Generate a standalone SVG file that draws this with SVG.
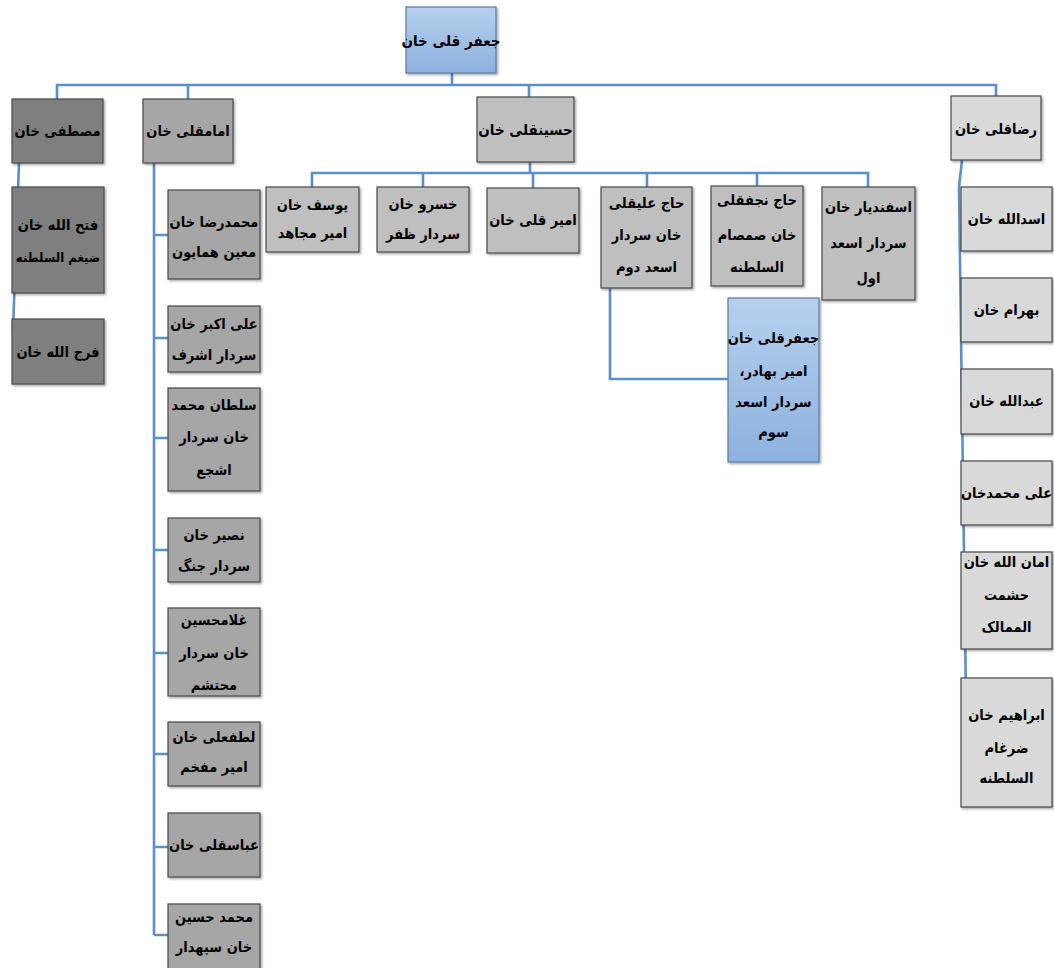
<svg xmlns="http://www.w3.org/2000/svg" width="1054" height="968" viewBox="0 0 1054 968">
  <defs>
    <linearGradient id="blueFill" x1="0" y1="0" x2="0" y2="1">
      <stop offset="0" stop-color="#b6d0ee"/>
      <stop offset="1" stop-color="#8db1de"/>
    </linearGradient>
    <filter id="shade" x="-10%" y="-10%" width="125%" height="125%">
      <feDropShadow dx="1.5" dy="1.5" stdDeviation="0.8" flood-color="#000" flood-opacity="0.35"/>
    </filter>
    <style>
      .box { stroke: #4a4a4a; stroke-width: 1.2; filter: url(#shade); }
      .c1 { fill: #7f7f7f; }
      .c2 { fill: #a6a6a6; }
      .c3 { fill: #bfbfbf; }
      .c4 { fill: #d9d9d9; }
      .cb { fill: url(#blueFill); stroke: #5a7aa0; }
      .wire { fill: none; stroke: #5b8fc9; stroke-width: 2.6; stroke-linejoin: miter; }
      text { font-family: "DejaVu Sans Condensed", "DejaVu Sans", sans-serif; font-weight: bold; font-size: 14.5px; fill: #000; text-anchor: middle; dominant-baseline: central; direction: rtl; }
      .big { font-size: 15px; }
      .tight { font-size: 13px; }
    </style>
  </defs>
  <rect width="1054" height="968" fill="#ffffff"/>

  <!-- connectors -->
  <g id="connectors">
    <!-- root to first generation -->
    <path class="wire" d="M452,73 V84 M57,99 V85 H996 V97 M188,99 V85 M529,97 V85"/>
    <!-- Mostafa line -->
    <path class="wire" d="M19,163 L13,330"/>
    <!-- Emamgholi line -->
    <path class="wire" d="M154,163 V935 M154,235 H168 M154,338 H168 M154,438 H168 M154,550 H168 M154,653 H168 M154,754 H168 M154,847 H168 M154,935 H168"/>
    <!-- Hosseingholi line -->
    <path class="wire" d="M530,162 V173 M312,187 V173 H868 V187 M423,173 V187 M533,173 V188 M647,173 V187 M757,173 V186"/>
    <!-- Haj Aligholi to Jafargholi -->
    <path class="wire" d="M610,288 V379 H728"/>
    <!-- Rezagholi line -->
    <path class="wire" d="M962,160 L959,187 L966,700"/>
  </g>

  <!-- root -->
  <g id="n-jafar-gholi">
    <rect class="box cb" x="406" y="7" width="90" height="66"/>
    <text class="big" x="451" y="41">جعفر قلی خان</text>
  </g>

  <!-- first generation -->
  <g id="n-mostafa">
    <rect class="box c1" x="12" y="99" width="91" height="64"/>
    <text x="57.5" y="131">مصطفی خان</text>
  </g>
  <g id="n-emamgholi">
    <rect class="box c2" x="143" y="99" width="90" height="64"/>
    <text x="188" y="131">امامقلی خان</text>
  </g>
  <g id="n-hosseingholi">
    <rect class="box c3" x="477" y="97" width="97" height="65"/>
    <text class="big" x="525.5" y="130">حسینقلی خان</text>
  </g>
  <g id="n-rezagholi">
    <rect class="box c4" x="951" y="96" width="90" height="64"/>
    <text x="996" y="129">رضاقلی خان</text>
  </g>

  <!-- Mostafa's sons -->
  <g id="n-fathollah">
    <rect class="box c1" x="12" y="187" width="92" height="106"/>
    <text x="58" y="225">فتح الله خان</text>
    <text class="tight" x="58" y="257">ضیغم السلطنه</text>
  </g>
  <g id="n-farajollah">
    <rect class="box c1" x="12" y="319" width="92" height="65"/>
    <text x="58" y="352">فرج الله خان</text>
  </g>

  <!-- Emamgholi's sons -->
  <g id="n-mohammadreza">
    <rect class="box c2" x="168" y="190" width="92" height="89"/>
    <text x="214" y="222">محمدرضا خان</text>
    <text x="214" y="252">معین همایون</text>
  </g>
  <g id="n-aliakbar">
    <rect class="box c2" x="168" y="306" width="92" height="66"/>
    <text x="214" y="324">علی اکبر خان</text>
    <text x="214" y="355">سردار اشرف</text>
  </g>
  <g id="n-soltanmohammad">
    <rect class="box c2" x="168" y="388" width="92" height="103"/>
    <text x="214" y="405">سلطان محمد</text>
    <text x="214" y="437">خان سردار</text>
    <text x="214" y="470">اشجع</text>
  </g>
  <g id="n-nasir">
    <rect class="box c2" x="168" y="518" width="92" height="64"/>
    <text x="214" y="535">نصیر خان</text>
    <text x="214" y="566">سردار جنگ</text>
  </g>
  <g id="n-gholamhossein">
    <rect class="box c2" x="168" y="608" width="92" height="88"/>
    <text x="214" y="620">غلامحسین</text>
    <text x="214" y="653">خان سردار</text>
    <text x="214" y="685">محتشم</text>
  </g>
  <g id="n-lotfali">
    <rect class="box c2" x="168" y="722" width="92" height="64"/>
    <text x="214" y="737">لطفعلی خان</text>
    <text x="214" y="767">امیر مفخم</text>
  </g>
  <g id="n-abbasgholi">
    <rect class="box c2" x="168" y="813" width="92" height="64"/>
    <text x="214" y="845">عباسقلی خان</text>
  </g>
  <g id="n-mohammadhossein">
    <rect class="box c2" x="168" y="904" width="92" height="70"/>
    <text x="214" y="917">محمد حسین</text>
    <text x="214" y="947">خان سپهدار</text>
  </g>

  <!-- Hosseingholi's sons -->
  <g id="n-yusef">
    <rect class="box c3" x="266" y="187" width="93" height="65"/>
    <text x="312.5" y="205">یوسف خان</text>
    <text x="312.5" y="233">امیر مجاهد</text>
  </g>
  <g id="n-khosro">
    <rect class="box c3" x="377" y="187" width="92" height="65"/>
    <text x="423" y="204">خسرو خان</text>
    <text x="423" y="234">سردار ظفر</text>
  </g>
  <g id="n-amirgholi">
    <rect class="box c3" x="487" y="188" width="92" height="65"/>
    <text x="533" y="220">امیر قلی خان</text>
  </g>
  <g id="n-hajaligholi">
    <rect class="box c3" x="601" y="187" width="91" height="101"/>
    <text x="646.5" y="203">حاج علیقلی</text>
    <text x="646.5" y="235">خان سردار</text>
    <text x="646.5" y="267">اسعد دوم</text>
  </g>
  <g id="n-hajnajafgholi">
    <rect class="box c3" x="711" y="186" width="92" height="100"/>
    <text x="757" y="200">حاج نجفقلی</text>
    <text x="757" y="235">خان صمصام</text>
    <text x="757" y="267">السلطنه</text>
  </g>
  <g id="n-esfandiar">
    <rect class="box c3" x="822" y="187" width="93" height="113"/>
    <text x="868.5" y="207">اسفندیار خان</text>
    <text x="868.5" y="243">سردار اسعد</text>
    <text x="868.5" y="278">اول</text>
  </g>

  <!-- Haj Aligholi's son -->
  <g id="n-jafargholi-amirbahador">
    <rect class="box cb" x="728" y="298" width="91" height="164"/>
    <text x="773.5" y="338">جعفرقلی خان</text>
    <text x="773.5" y="371">امیر بهادر،</text>
    <text x="773.5" y="402">سردار اسعد</text>
    <text x="773.5" y="432">سوم</text>
  </g>

  <!-- Rezagholi's sons -->
  <g id="n-asadollah">
    <rect class="box c4" x="961" y="187" width="91" height="64"/>
    <text x="1006.5" y="219">اسدالله خان</text>
  </g>
  <g id="n-bahram">
    <rect class="box c4" x="961" y="278" width="91" height="64"/>
    <text x="1006.5" y="310">بهرام خان</text>
  </g>
  <g id="n-abdollah">
    <rect class="box c4" x="961" y="369" width="91" height="65"/>
    <text x="1006.5" y="401">عبدالله خان</text>
  </g>
  <g id="n-alimohammad">
    <rect class="box c4" x="961" y="461" width="91" height="64"/>
    <text x="1006.5" y="493">علی محمدخان</text>
  </g>
  <g id="n-amanollah">
    <rect class="box c4" x="961" y="552" width="91" height="97"/>
    <text x="1006.5" y="562">امان الله خان</text>
    <text x="1006.5" y="595">حشمت</text>
    <text x="1006.5" y="627">الممالک</text>
  </g>
  <g id="n-ebrahim">
    <rect class="box c4" x="961" y="678" width="91" height="129"/>
    <text x="1006.5" y="715">ابراهیم خان</text>
    <text x="1006.5" y="748">ضرغام</text>
    <text x="1006.5" y="778">السلطنه</text>
  </g>
</svg>
